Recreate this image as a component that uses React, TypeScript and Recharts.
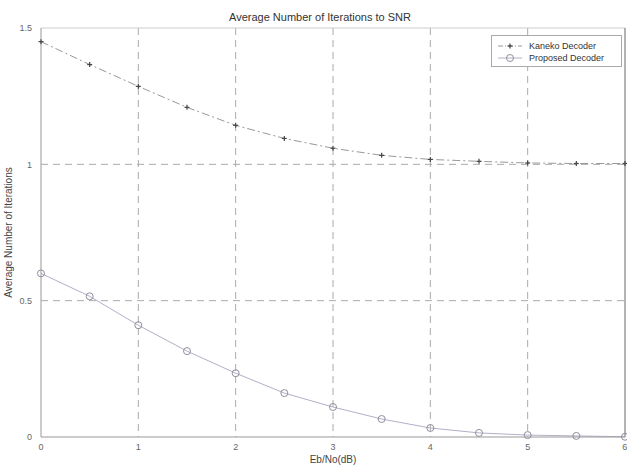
import { LineChart, Line, XAxis, YAxis, CartesianGrid, Label, ReferenceLine } from "recharts";

const snr = [0, 0.5, 1, 1.5, 2, 2.5, 3, 3.5, 4, 4.5, 5, 5.5, 6];
const kaneko = [1.45, 1.366, 1.286, 1.209, 1.143, 1.095, 1.059, 1.033, 1.018, 1.011, 1.005, 1.003, 1.003];
const proposed = [0.6, 0.516, 0.41, 0.315, 0.234, 0.161, 0.11, 0.066, 0.033, 0.015, 0.007, 0.004, 0.001];
const xTicks = [0, 1, 2, 3, 4, 5, 6];
const yTicks = [0, 0.5, 1, 1.5];

const data = snr.map((x, i) => ({ x, kaneko: kaneko[i], proposed: proposed[i] }));

const font = "Arial, 'Liberation Sans', sans-serif";

const StarDot = (props: any) => {
  const { cx, cy } = props;
  if (cx == null || cy == null) return null;
  return (
    <g stroke="#444" strokeWidth={1.2}>
      <line x1={cx - 2.5} y1={cy} x2={cx + 2.5} y2={cy} />
      <line x1={cx} y1={cy - 2.5} x2={cx} y2={cy + 2.5} />
    </g>
  );
};

const CircleDot = (props: any) => {
  const { cx, cy } = props;
  if (cx == null || cy == null) return null;
  return <circle cx={cx} cy={cy} r={3.5} fill="none" stroke="#8f8f9f" strokeWidth={1} />;
};

// legend drawn as an overlay so it doesn't eat plot space
const LegendBox = () => (
  <div
    style={{
      position: "absolute",
      left: 491,
      top: 35,
      border: "1px solid #aaa",
      background: "#fff",
      width: 131,
      height: 32,
      boxSizing: "border-box",
    }}
  >
    <svg width={130} height={30} style={{ display: "block" }}>
      <line x1={6} y1={10} x2={30} y2={10} stroke="#999" strokeDasharray="5 2 1 2" />
      <StarDot cx={18} cy={10} />
      <text x={37} y={13} fill="#333" fontSize={9} fontFamily={font}>Kaneko Decoder</text>
      <line x1={6} y1={22} x2={30} y2={22} stroke="#b0b0c8" />
      <CircleDot cx={18} cy={22} />
      <text x={37} y={25} fill="#333" fontSize={9} fontFamily={font}>Proposed Decoder</text>
    </svg>
  </div>
);

export default function App() {
  return (
    <div style={{ position: "absolute", left: 0, top: 0, width: 627, height: 466, background: "#fff" }}>
      <LineChart width={627} height={466} data={data} margin={{ top: 28, right: 2, bottom: 0, left: 0 }}>
        <text x={320} y={21} textAnchor="middle" fontFamily={font} fontSize={11} fill="#333">
          Average Number of Iterations to SNR
        </text>
        <CartesianGrid stroke="#aaa" strokeDasharray="7 5" horizontalValues={[0.5, 1]} verticalValues={[1, 2, 3, 4, 5]} />
        <ReferenceLine y={1.5} stroke="#ccc" />
        <ReferenceLine x={6} stroke="#666" />
        <XAxis
          dataKey="x"
          type="number"
          domain={[0, 6]}
          ticks={xTicks}
          height={29}
          stroke="#999"
          tickLine={false}
          tick={{ fill: "#666", fontSize: 9, fontFamily: font }}
          tickMargin={1}
        >
          <Label value="Eb/No(dB)" position="insideBottom" offset={3} fill="#444" fontSize={10} fontFamily={font} />
        </XAxis>
        <YAxis
          type="number"
          domain={[0, 1.5]}
          ticks={yTicks}
          width={41}
          stroke="#999"
          tickLine={false}
          tick={{ fill: "#666", fontSize: 9, fontFamily: font }}
          tickMargin={3}
        >
          <Label
            value="Average Number of Iterations"
            angle={-90}
            position="insideLeft"
            offset={8}
            style={{ textAnchor: "middle" }}
            fill="#444"
            fontSize={10}
            fontFamily={font}
          />
        </YAxis>
        <Line
          dataKey="kaneko"
          stroke="#999"
          strokeWidth={1}
          strokeDasharray="8 3 2 3"
          dot={<StarDot />}
          isAnimationActive={false}
        />
        <Line
          dataKey="proposed"
          stroke="#b0b0c8"
          strokeWidth={1}
          dot={<CircleDot />}
          isAnimationActive={false}
        />
      </LineChart>
      <LegendBox />
    </div>
  );
}
